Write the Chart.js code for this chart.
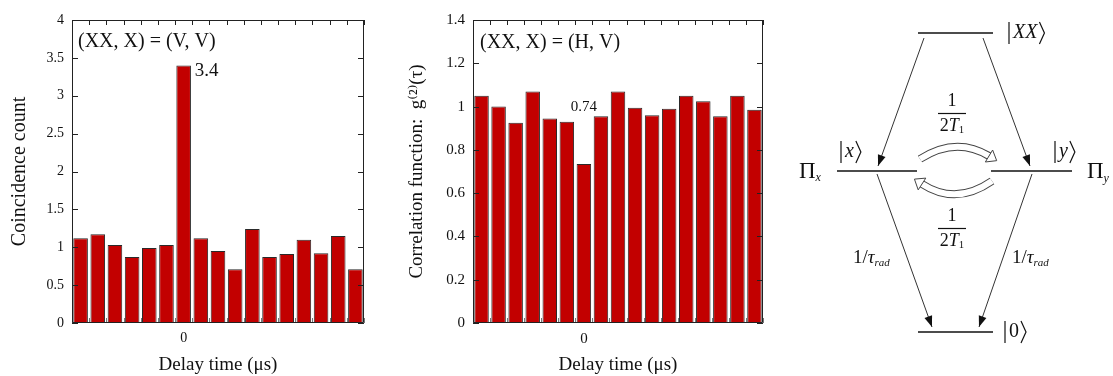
<!DOCTYPE html>
<html><head><meta charset="utf-8">
<script src="https://cdn.jsdelivr.net/npm/chart.js@4"></script>
<style>
html,body{margin:0;padding:0;background:#fff;width:1113px;height:376px;overflow:hidden}
canvas{position:absolute;top:0}
</style></head><body>
<canvas id="c1" width="380" height="376" style="left:0"></canvas>
<canvas id="c2" width="380" height="376" style="left:390px"></canvas>
<canvas id="c3" width="343" height="376" style="left:770px"></canvas>
<script>
// ---------- data ----------
const delayBins = [-6,-5,-4,-3,-2,-1,0,1,2,3,4,5,6,7,8,9,10];
const coincidenceVV = [1.12,1.17,1.03,0.87,0.99,1.03,3.40,1.12,0.95,0.71,1.24,0.87,0.91,1.10,0.92,1.15,0.71];
const g2HV = [1.05,1.00,0.925,1.07,0.945,0.93,0.735,0.955,1.07,0.995,0.96,0.99,1.05,1.025,0.955,1.05,0.985];
const shownTickLabels = ['0'];
const yRangeVV = [0, 4, 0.5];
const yRangeHV = [0, 1.4, 0.2];

// diagram (energy-level scheme) data, in diagram units
const levelNames = ['XX', 'x', 'y', '0'];
const levelX0 = [148, 67, 221, 148];
const levelX1 = [223, 147, 302, 223];
const levelE  = [343, 205, 205, 44];
const transFromX = [154, 213, 107, 262];
const transFromE = [338, 338, 202, 202];
const transToX   = [108, 260, 162, 209];
const transToE   = [210, 210, 49, 49];

const SERIF = '"Liberation Serif","DejaVu Serif",serif';
const BAR_RED = '#c20000';

// ---------- frame plugin (box with inward ticks) ----------
const framePlugin = {
  id: 'frame',
  afterDatasetsDraw(chart) {
    const {ctx, chartArea: a, scales: {x, y}} = chart;
    ctx.save();
    ctx.lineWidth = 1;
    ctx.strokeStyle = '#222';
    y.ticks.forEach(t => {
      const py = Math.round(y.getPixelForValue(t.value)) + 0.5;
      ctx.beginPath();
      ctx.moveTo(a.left, py); ctx.lineTo(a.left + 6, py);
      ctx.moveTo(a.right, py); ctx.lineTo(a.right - 6, py);
      ctx.stroke();
    });
    const n = chart.data.labels.length;
    for (let i = 0; i <= n; i++) {
      const px = Math.round(a.left + i * a.width / n) + 0.5;
      ctx.strokeStyle = '#222';
      ctx.beginPath(); ctx.moveTo(px, a.top); ctx.lineTo(px, a.top + 5); ctx.stroke();
      ctx.strokeStyle = '#777';
      ctx.beginPath(); ctx.moveTo(px, a.bottom); ctx.lineTo(px, a.bottom - 5); ctx.stroke();
    }
    ctx.strokeStyle = '#222';
    ctx.beginPath();
    ctx.moveTo(a.left + 0.5, a.top + 0.5); ctx.lineTo(a.right - 0.5, a.top + 0.5);
    ctx.lineTo(a.right - 0.5, a.bottom - 0.5); ctx.lineTo(a.left + 0.5, a.bottom - 0.5);
    ctx.closePath(); ctx.stroke();
    // notes
    const notes = chart.options.plugins.frame.notes || [];
    ctx.fillStyle = '#111';
    notes.forEach(nt => {
      ctx.font = nt.size + 'px ' + SERIF;
      ctx.textAlign = nt.align; ctx.textBaseline = 'middle';
      let px = nt.index !== undefined ? x.getPixelForValue(nt.index) + (nt.dx || 0) : a.left + nt.dx;
      let py = nt.value !== undefined ? y.getPixelForValue(nt.value) + (nt.dy || 0) : a.top + nt.dy;
      ctx.fillText(nt.text, px, py);
    });
    ctx.restore();
  }
};

function barChart(id, values, yr, yTitle, yTitleSize, yTitlePad, tickSize, yWidth, padRight, notes) {
  return new Chart(document.getElementById(id), {
    type: 'bar',
    data: {
      labels: delayBins,
      datasets: [{
        data: values,
        backgroundColor: BAR_RED,
        borderColor: '#2a2a2a',
        borderWidth: 1,
        categoryPercentage: 1,
        barPercentage: 0.85
      }]
    },
    options: {
      responsive: false,
      animation: false,
      devicePixelRatio: 1,
      layout: {padding: {top: 20, right: padRight, left: 0, bottom: 0}},
      plugins: {legend: {display: false}, tooltip: {enabled: false}, frame: {notes}},
      scales: {
        x: {
          grid: {display: false, drawTicks: false},
          border: {display: false},
          ticks: {
            autoSkip: false, maxRotation: 0, padding: 7,
            color: '#111', font: {family: SERIF, size: tickSize},
            callback: (v, i) => shownTickLabels.includes(String(delayBins[i])) ? String(delayBins[i]) : ''
          },
          title: {display: true, text: 'Delay time (μs)', color: '#111', font: {family: SERIF, size: 19}, padding: {top: 0, bottom: 0}},
          afterFit(s) { s.height = 53; }
        },
        y: {
          min: yr[0], max: yr[1],
          grid: {display: false, drawTicks: false},
          border: {display: false},
          ticks: {stepSize: yr[2], padding: 8, color: '#111', font: {family: SERIF, size: tickSize},
            callback: v => String(Number(v.toFixed(2)))},
          title: {display: true, text: yTitle, color: '#111', font: {family: SERIF, size: yTitleSize}, padding: {top: yTitlePad, bottom: 0}},
          afterFit(s) { s.width = yWidth; }
        }
      }
    },
    plugins: [framePlugin]
  });
}

barChart('c1', coincidenceVV, yRangeVV, 'Coincidence count', 20, 8, 14, 72, 16, [
  {text: '(XX, X) = (V, V)', size: 20, align: 'left', dx: 6, dy: 22},
  {text: '3.4', size: 19, align: 'left', index: 6, dx: 11, value: 3.4, dy: 6}
]);
barChart('c2', g2HV, yRangeHV, 'Correlation function:  g⁽²⁾(τ)', 19, 16, 15, 83, 7, [
  {text: '(XX, X) = (H, V)', size: 20, align: 'left', dx: 7, dy: 23},
  {text: '0.74', size: 15, align: 'center', index: 6, dx: 0, value: 1.0, dy: 0}
]);

// ---------- level diagram ----------
function runs(ctx, x, y, parts, align) {
  let w = 0;
  parts.forEach(p => { ctx.font = (p[2] ? 'italic ' : '') + p[1] + 'px ' + SERIF; w += ctx.measureText(p[0]).width; });
  let cx = align === 'center' ? x - w / 2 : align === 'right' ? x - w : x;
  ctx.textAlign = 'left'; ctx.textBaseline = 'middle';
  parts.forEach(p => {
    ctx.font = (p[2] ? 'italic ' : '') + p[1] + 'px ' + SERIF;
    ctx.fillText(p[0], cx, y + (p[3] || 0));
    cx += ctx.measureText(p[0]).width;
  });
  return w;
}
function ket(ctx, x, y, parts, h) {
  ctx.lineWidth = 1.2;
  ctx.beginPath(); ctx.moveTo(x + 1, y - h / 2); ctx.lineTo(x + 1, y + h / 2); ctx.stroke();
  const w = runs(ctx, x + 5, y, parts, 'left');
  const bx = x + 5 + w + 2;
  ctx.beginPath(); ctx.moveTo(bx, y - h / 2); ctx.lineTo(bx + 5, y); ctx.lineTo(bx, y + h / 2); ctx.stroke();
}
function frac(ctx, cx, cy, size) {
  runs(ctx, cx, cy - 12, [['1', size, false]], 'center');
  ctx.lineWidth = 1.2;
  ctx.beginPath(); ctx.moveTo(cx - 14, cy + 0.5); ctx.lineTo(cx + 14, cy + 0.5); ctx.stroke();
  runs(ctx, cx, cy + 13, [['2', size, false], ['T', size, true], ['1', size * 0.6, false, 4]], 'center');
}
function bandArrow(ctx, p0, c, p1) {
  const ang = Math.atan2(p1[1] - c[1], p1[0] - c[0]);
  const tip = [p1[0] + 9 * Math.cos(ang), p1[1] + 9 * Math.sin(ang)];
  ctx.lineCap = 'butt';
  ctx.strokeStyle = '#444'; ctx.lineWidth = 8;
  ctx.beginPath(); ctx.moveTo(p0[0], p0[1]); ctx.quadraticCurveTo(c[0], c[1], p1[0], p1[1]); ctx.stroke();
  ctx.strokeStyle = '#fff'; ctx.lineWidth = 6;
  ctx.beginPath(); ctx.moveTo(p0[0], p0[1]); ctx.quadraticCurveTo(c[0], c[1], p1[0], p1[1]); ctx.stroke();
  const nx = -Math.sin(ang), ny = Math.cos(ang);
  ctx.beginPath();
  ctx.moveTo(p1[0] + nx * 7, p1[1] + ny * 7);
  ctx.lineTo(tip[0], tip[1]);
  ctx.lineTo(p1[0] - nx * 7, p1[1] - ny * 7);
  ctx.closePath();
  ctx.fillStyle = '#fff'; ctx.fill();
  ctx.strokeStyle = '#444'; ctx.lineWidth = 1; ctx.stroke();
}

const diagramPlugin = {
  id: 'diagram',
  afterDatasetsDraw(chart) {
    const {ctx, scales: {x, y}} = chart;
    const P = (vx, ve) => [x.getPixelForValue(vx), y.getPixelForValue(ve)];
    ctx.save();
    ctx.fillStyle = '#111'; ctx.strokeStyle = '#111';
    for (let i = 0; i < transToX.length; i++) {
      const a = P(transFromX[i], transFromE[i]), b = P(transToX[i], transToE[i]);
      const ang = Math.atan2(b[1] - a[1], b[0] - a[0]);
      ctx.beginPath();
      ctx.moveTo(b[0], b[1]);
      ctx.lineTo(b[0] - 11 * Math.cos(ang) + 4 * Math.sin(ang), b[1] - 11 * Math.sin(ang) - 4 * Math.cos(ang));
      ctx.lineTo(b[0] - 11 * Math.cos(ang) - 4 * Math.sin(ang), b[1] - 11 * Math.sin(ang) + 4 * Math.cos(ang));
      ctx.closePath(); ctx.fill();
    }
    bandArrow(ctx, P(150, 217), P(186, 240), P(219, 220));
    bandArrow(ctx, P(222, 195), P(186, 170), P(152, 192));
    ctx.fillStyle = '#111'; ctx.strokeStyle = '#111';
    const lXX = P(levelX1[0], levelE[0]);
    ket(ctx, lXX[0] + 15, lXX[1], [['XX', 20, true]], 22);
    const l0 = P(levelX1[3], levelE[3]);
    ket(ctx, l0[0] + 11, l0[1], [['0', 20, false]], 22);
    const lx = P(levelX0[1], levelE[1]);
    ket(ctx, lx[0] + 3, lx[1] - 19, [['x', 20, true]], 22);
    runs(ctx, lx[0] - 38, lx[1] + 1, [['Π', 23, false], ['x', 12, true, 6]], 'left');
    const ly = P(levelX1[2], levelE[2]);
    ket(ctx, ly[0] - 18, ly[1] - 19, [['y', 20, true]], 22);
    runs(ctx, ly[0] + 15, ly[1] + 1, [['Π', 23, false], ['y', 12, true, 7]], 'left');
    const fTop = P(182, 263), fBot = P(182, 148);
    frac(ctx, fTop[0], fTop[1], 18);
    frac(ctx, fBot[0], fBot[1], 18);
    const tl = P(83, 118), tr = P(242, 118);
    runs(ctx, tl[0], tl[1], [['1/', 19, false], ['τ', 19, true], ['rad', 11, true, 5]], 'left');
    runs(ctx, tr[0], tr[1], [['1/', 19, false], ['τ', 19, true], ['rad', 11, true, 5]], 'left');
    ctx.restore();
  }
};

const diagramSets = [];
for (let i = 0; i < levelNames.length; i++) {
  diagramSets.push({type: 'line', data: [{x: levelX0[i], y: levelE[i]}, {x: levelX1[i], y: levelE[i]}],
    borderColor: '#111', borderWidth: 1.3, pointRadius: 0, showLine: true});
}
for (let i = 0; i < transToX.length; i++) {
  diagramSets.push({type: 'line', data: [{x: transFromX[i], y: transFromE[i]}, {x: transToX[i], y: transToE[i]}],
    borderColor: '#333', borderWidth: 1, pointRadius: 0, showLine: true});
}
new Chart(document.getElementById('c3'), {
  type: 'scatter',
  data: {datasets: diagramSets},
  options: {
    responsive: false, animation: false, devicePixelRatio: 1,
    layout: {padding: 0},
    plugins: {legend: {display: false}, tooltip: {enabled: false}},
    scales: {
      x: {type: 'linear', min: 0, max: 343, display: false},
      y: {type: 'linear', min: 0, max: 376, display: false}
    }
  },
  plugins: [diagramPlugin]
});
</script>
</body></html>
